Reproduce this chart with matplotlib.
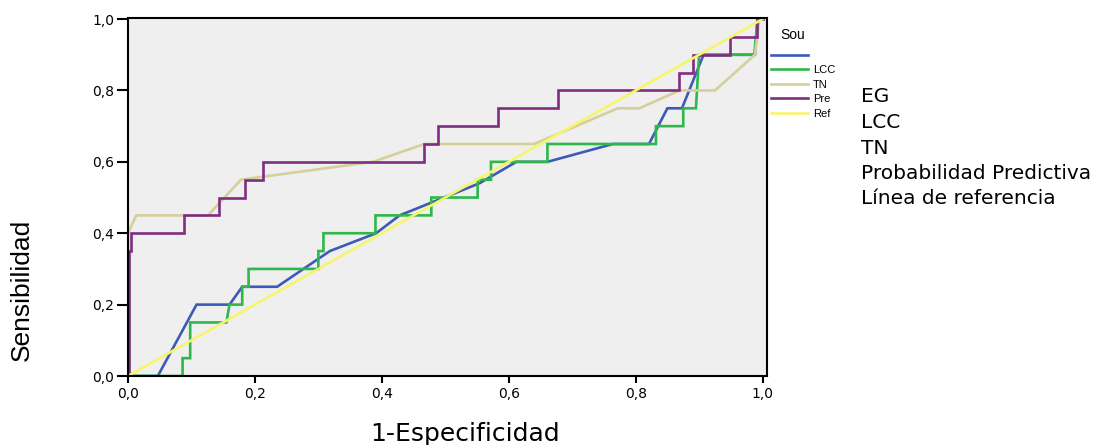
import numpy as np
import matplotlib
matplotlib.use('Agg')
from matplotlib import pyplot as plt
from matplotlib.lines import Line2D

# ROC curves (1-Especificidad, Sensibilidad)
eg_x = [0, 0.047, 0.108, 0.160, 0.180, 0.235, 0.318, 0.391, 0.428, 0.554, 0.612, 0.661,
        0.764, 0.821, 0.850, 0.873, 0.907, 0.988, 0.992, 1.0]
eg_y = [0, 0, 0.20, 0.20, 0.25, 0.25, 0.35, 0.40, 0.45, 0.54, 0.60, 0.60,
        0.65, 0.65, 0.75, 0.75, 0.90, 0.90, 1.0, 1.0]

lcc_x = [0, 0.086, 0.086, 0.098, 0.098, 0.155, 0.160, 0.180, 0.180, 0.190,
         0.190, 0.300, 0.300, 0.308, 0.308, 0.390, 0.390, 0.478, 0.478, 0.551,
         0.551, 0.572, 0.572, 0.661, 0.661, 0.832, 0.832, 0.875, 0.875, 0.895,
         0.900, 0.987, 0.992, 1.0]
lcc_y = [0, 0, 0.05, 0.05, 0.15, 0.15, 0.20, 0.20, 0.25, 0.25,
         0.30, 0.30, 0.35, 0.35, 0.40, 0.40, 0.45, 0.45, 0.50, 0.50,
         0.55, 0.55, 0.60, 0.60, 0.65, 0.65, 0.70, 0.70, 0.75, 0.75,
         0.90, 0.90, 1.0, 1.0]

tn_x = [0, 0, 0.013, 0.126, 0.178, 0.386, 0.467, 0.640, 0.772, 0.806, 0.869, 0.925, 0.988, 0.995, 1.0]
tn_y = [0, 0.40, 0.45, 0.45, 0.55, 0.60, 0.65, 0.65, 0.75, 0.75, 0.80, 0.80, 0.90, 1.0, 1.0]

pp_x = [0.002, 0.002, 0.005, 0.005, 0.088, 0.088, 0.144, 0.144, 0.184, 0.184, 0.213, 0.213,
        0.467, 0.467, 0.488, 0.488, 0.583, 0.583, 0.677, 0.677, 0.868, 0.868,
        0.890, 0.890, 0.948, 0.948, 0.992, 0.992, 1.0]
pp_y = [0, 0.35, 0.35, 0.40, 0.40, 0.45, 0.45, 0.50, 0.50, 0.55, 0.55, 0.60,
        0.60, 0.65, 0.65, 0.70, 0.70, 0.75, 0.75, 0.80, 0.80, 0.85,
        0.85, 0.90, 0.90, 0.95, 0.95, 1.0, 1.0]

ref_x = [0, 1]
ref_y = [0, 1]

labels = ['EG', 'LCC', 'TN', 'Probabilidad Predictiva', 'Línea de referencia']
short_labels = ['', 'LCC', 'TN', 'Pre', 'Ref']
colors = ['#3d5bb6', '#2fb84a', '#d5cf9b', '#7e2d80', '#f6f56c']
ticks = [0, 0.2, 0.4, 0.6, 0.8, 1.0]
tick_labels = ['0,0', '0,2', '0,4', '0,6', '0,8', '1,0']

fig = plt.figure(figsize=(11.09, 4.45), dpi=100)
ax = fig.add_axes([128/1109, 69/445, 639/1109, 358/445])
ax.set_facecolor('#efefef')

series = [(eg_x, eg_y), (lcc_x, lcc_y), (tn_x, tn_y), (pp_x, pp_y), (ref_x, ref_y)]
for (xs, ys), c in zip(series, colors):
    ax.plot(xs, ys, color=c, lw=1.9, solid_joinstyle='miter')

ax.set_xlim(0, 1.007)
ax.set_ylim(0, 1.003)
ax.set_xticks(ticks)
ax.set_xticklabels(tick_labels)
ax.set_yticks(ticks)
ax.set_yticklabels(tick_labels)
ax.tick_params(axis='x', direction='out', length=5, width=1.5, pad=3, labelsize=10)
ax.tick_params(axis='y', direction='out', length=8, width=1.5, pad=2, labelsize=10)
for sp in ax.spines.values():
    sp.set_linewidth(1.5)
    sp.set_color('black')

fig.text(22/1109, 1 - 290/445, 'Sensibilidad', rotation=90, ha='center', va='center',
         fontsize=19, family='Liberation Sans')
fig.text(465/1109, 1 - 434/445, '1-Especificidad', ha='center', va='center',
         fontsize=18, family='DejaVu Sans')

# small legend, clipped as in the original
fig.text(780/1109, 1 - 35/445, 'Sou', fontsize=10, family='Liberation Sans', va='center')
rows = [55, 69, 84, 98, 113]
for yy, c, s in zip(rows, colors, short_labels):
    fig.add_artist(Line2D([771/1109, 808/1109], [1 - yy/445, 1 - yy/445], color=c, lw=1.9))
    if s:
        fig.text(813/1109, 1 - (yy + 1)/445, s, fontsize=8, family='Liberation Sans', va='center')

# big label list
for i, lab in enumerate(labels):
    fig.text(861/1109, 1 - (97 + 25.5*i)/445, lab, fontsize=14.5, family='DejaVu Sans', va='center')

plt.savefig('out.png', dpi=100)
